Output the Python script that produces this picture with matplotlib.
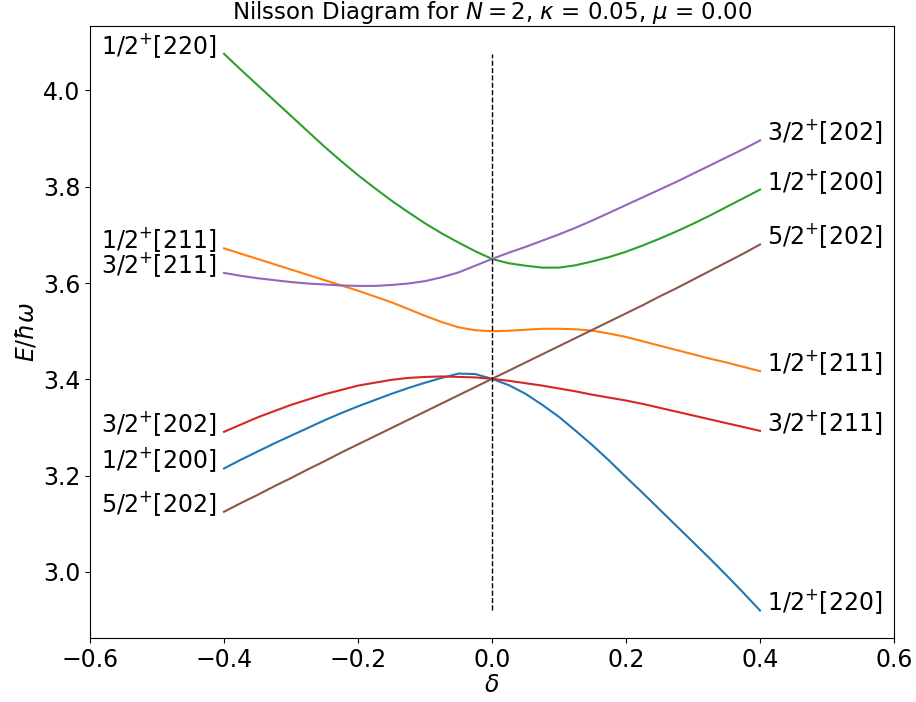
import numpy as np
import matplotlib
matplotlib.use("Agg")
import matplotlib.pyplot as plt

# Deformation grid
delta = np.round(np.arange(-0.4, 0.4001, 0.025), 3)

# Omega = 1/2 levels
e_half_low = [3.215, 3.233, 3.250, 3.267, 3.283, 3.299, 3.315, 3.330, 3.344,
              3.357, 3.370, 3.382, 3.393, 3.403, 3.412, 3.411, 3.401, 3.388,
              3.370, 3.347, 3.322, 3.293, 3.263, 3.231, 3.197, 3.164, 3.130,
              3.096, 3.062, 3.028, 2.993, 2.957, 2.920]
e_half_mid = [3.672, 3.661, 3.650, 3.639, 3.628, 3.617, 3.606, 3.595, 3.584,
              3.572, 3.560, 3.546, 3.532, 3.519, 3.508, 3.502, 3.500, 3.501,
              3.503, 3.505, 3.505, 3.504, 3.501, 3.495, 3.488, 3.479, 3.470,
              3.461, 3.452, 3.443, 3.435, 3.426, 3.417]
e_half_high = [4.076, 4.043, 4.011, 3.979, 3.947, 3.915, 3.883, 3.853, 3.824,
               3.797, 3.771, 3.747, 3.724, 3.703, 3.684, 3.666, 3.650, 3.641,
               3.636, 3.632, 3.632, 3.637, 3.645, 3.654, 3.665, 3.678, 3.692,
               3.707, 3.723, 3.740, 3.758, 3.776, 3.794]
# Omega = 3/2 levels
e_3half_low = [3.291, 3.306, 3.321, 3.334, 3.347, 3.358, 3.369, 3.378, 3.387,
               3.393, 3.399, 3.403, 3.405, 3.406, 3.405, 3.404, 3.401, 3.397,
               3.392, 3.387, 3.381, 3.375, 3.368, 3.362, 3.356, 3.349, 3.341,
               3.333, 3.325, 3.317, 3.309, 3.301, 3.293]
e_3half_high = [3.621, 3.615, 3.610, 3.606, 3.602, 3.599, 3.597, 3.595, 3.594,
                3.594, 3.596, 3.599, 3.604, 3.612, 3.622, 3.636, 3.650, 3.663,
                3.675, 3.688, 3.701, 3.715, 3.730, 3.746, 3.762, 3.778, 3.794,
                3.810, 3.827, 3.844, 3.861, 3.878, 3.896]
# Omega = 5/2 level
e_5half = [3.125, 3.143, 3.160, 3.178, 3.195, 3.213, 3.230, 3.248, 3.265,
           3.282, 3.299, 3.316, 3.333, 3.350, 3.367, 3.384, 3.401, 3.418,
           3.435, 3.452, 3.469, 3.486, 3.503, 3.520, 3.537, 3.554, 3.572,
           3.589, 3.607, 3.625, 3.643, 3.661, 3.680]

levels = [e_half_low, e_half_mid, e_half_high, e_3half_low, e_3half_high, e_5half]
left_labels = [r"1/2$^{+}$[200]", r"1/2$^{+}$[211]", r"1/2$^{+}$[220]",
               r"3/2$^{+}$[202]", r"3/2$^{+}$[211]", r"5/2$^{+}$[202]"]
right_labels = [r"1/2$^{+}$[220]", r"1/2$^{+}$[211]", r"1/2$^{+}$[200]",
                r"3/2$^{+}$[211]", r"3/2$^{+}$[202]", r"5/2$^{+}$[202]"]

fig = plt.figure(figsize=(9.16, 7.02), dpi=100)
ax = fig.add_axes([0.0983, 0.0907, 0.8777, 0.8723])

for e, ll, rl in zip(levels, left_labels, right_labels):
    ax.plot(delta, e, lw=1.5)
    ax.text(delta[0] - 0.011, e[0], ll, ha="right", va="baseline", fontsize=17)
    ax.text(delta[-1] + 0.011, e[-1], rl, ha="left", va="baseline", fontsize=17)

all_e = np.concatenate([np.asarray(e) for e in levels])
ax.vlines(0.0, all_e.min(), all_e.max(), colors="black", linestyles="--", lw=1)

ax.set_xlim(-0.6, 0.6)
ax.set_xlabel(r"$\delta$", fontsize=17, labelpad=1)
ax.set_ylabel(r"$E/\hbar\omega$", fontsize=17, labelpad=3)
ax.set_title(r"Nilsson Diagram for $N = 2$, $\kappa$ = 0.05, $\mu$ = 0.00",
             fontsize=16.5, pad=2)
ax.tick_params(labelsize=17)

fig.savefig("out.png", dpi=100)
